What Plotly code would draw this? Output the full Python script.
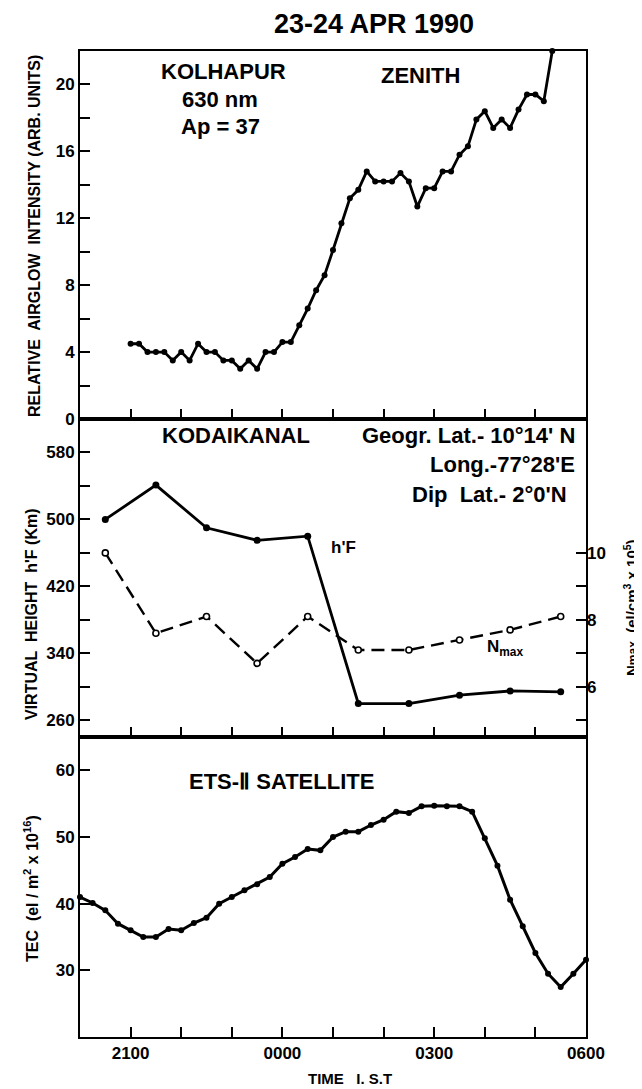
import plotly.graph_objects as go

# ---------------- data ----------------
# Airglow 630 nm, Kolhapur (10-min samples)
airglow_time = ["21:00", "21:10", "21:20", "21:30", "21:40", "21:50", "22:00", "22:10", "22:20", "22:30",
                "22:40", "22:50", "23:00", "23:10", "23:20", "23:30", "23:40", "23:50", "00:00", "00:10",
                "00:20", "00:30", "00:40", "00:50", "01:00", "01:10", "01:20", "01:30", "01:40", "01:50",
                "02:00", "02:10", "02:20", "02:30", "02:40", "02:50", "03:00", "03:10", "03:20", "03:30",
                "03:40", "03:50", "04:00", "04:10", "04:20", "04:30", "04:40", "04:50", "05:00", "05:10",
                "05:20"]
airglow_val = [4.5, 4.5, 4.0, 4.0, 4.0, 3.5, 4.0, 3.5, 4.5, 4.0,
               4.0, 3.5, 3.5, 3.0, 3.5, 3.0, 4.0, 4.0, 4.6, 4.6,
               5.6, 6.6, 7.7, 8.6, 10.1, 11.7, 13.2, 13.7, 14.8, 14.2,
               14.2, 14.2, 14.7, 14.2, 12.7, 13.8, 13.8, 14.8, 14.8, 15.8,
               16.3, 17.9, 18.4, 17.4, 17.9, 17.4, 18.5, 19.4, 19.4, 19.0,
               22.0]

# Kodaikanal ionosonde (hourly)
iono_time = ["20:30", "21:30", "22:30", "23:30", "00:30", "01:30", "02:30", "03:30", "04:30", "05:30"]
hf_val = [500, 541, 490, 475, 480, 280, 280, 290, 295, 294]
nmax_val = [10.0, 7.6, 8.1, 6.7, 8.1, 7.1, 7.1, 7.4, 7.7, 8.1]

# ETS-II TEC (15-min samples)
tec_time = ["20:00", "20:15", "20:30", "20:45", "21:00", "21:15", "21:30", "21:45", "22:00", "22:15",
            "22:30", "22:45", "23:00", "23:15", "23:30", "23:45", "00:00", "00:15", "00:30", "00:45",
            "01:00", "01:15", "01:30", "01:45", "02:00", "02:15", "02:30", "02:45", "03:00", "03:15",
            "03:30", "03:45", "04:00", "04:15", "04:30", "04:45", "05:00", "05:15", "05:30", "05:45",
            "06:00"]
tec_val = [41.0, 40.1, 39.0, 37.0, 36.0, 35.0, 35.0, 36.2, 36.0, 37.1,
           37.9, 40.0, 41.0, 42.0, 42.9, 44.0, 46.0, 47.0, 48.2, 48.0,
           50.0, 50.8, 50.8, 51.8, 52.6, 53.8, 53.6, 54.6, 54.7, 54.6,
           54.6, 53.8, 49.8, 45.7, 40.6, 36.6, 32.6, 29.5, 27.5, 29.5,
           31.6]


def to_dt(t):
    h = int(t[:2])
    day = "23" if h >= 12 else "24"
    return f"1990-04-{day} {t}:00"


X_RANGE = ["1990-04-23 20:00:00", "1990-04-24 06:00:00"]

FONT = "Liberation Sans, Arial, sans-serif"
OFF = 8  # page body margin
W, H = 642 - OFF, 1089 - OFF
ML, MT = 80 - OFF, 51 - OFF
MR = W - (586 - OFF)
MB = H - (1037 - OFF)
PW = W - ML - MR
PH = H - MT - MB


def px(x):
    return (x - OFF - ML) / PW


def py(y):
    return (H - MB - (y - OFF)) / PH


fig = go.Figure()

fig.add_trace(go.Scatter(
    x=[to_dt(t) for t in airglow_time], y=airglow_val, xaxis="x", yaxis="y",
    mode="lines+markers", line=dict(color="black", width=2.8),
    marker=dict(color="black", size=6), cliponaxis=False, showlegend=False))

fig.add_trace(go.Scatter(
    x=[to_dt(t) for t in iono_time], y=hf_val, xaxis="x2", yaxis="y2",
    mode="lines+markers", line=dict(color="black", width=2.8),
    marker=dict(color="black", size=7), showlegend=False))

fig.add_trace(go.Scatter(
    x=[to_dt(t) for t in iono_time], y=nmax_val, xaxis="x2", yaxis="y3",
    mode="lines+markers", line=dict(color="black", width=2.4, dash="13px,7px"),
    marker=dict(color="white", size=6, line=dict(color="black", width=1.6)),
    showlegend=False))

fig.add_trace(go.Scatter(
    x=[to_dt(t) for t in tec_time], y=tec_val, xaxis="x3", yaxis="y4",
    mode="lines+markers", line=dict(color="black", width=3),
    marker=dict(color="black", size=6), cliponaxis=False, showlegend=False))

tickfont = dict(family=FONT, size=17, color="black", weight="bold")
TK = dict(ticks="inside", ticklen=10, tickwidth=2, tickcolor="black")


def xaxis(anchor, labels):
    return dict(
        type="date", range=X_RANGE, anchor=anchor, domain=[0, 1],
        showline=True, linewidth=2, linecolor="black", mirror=True,
        showgrid=False, zeroline=False,
        tick0="1990-04-23 21:00:00", dtick=3 * 3600000, tickformat="%H%M",
        minor=dict(TK, tick0="1990-04-23 20:00:00", dtick=3600000, showgrid=False),
        showticklabels=labels, tickfont=tickfont, **TK)


def yaxis(anchor, domain, rng, **kw):
    d = dict(anchor=anchor, domain=domain, range=rng,
             showline=True, linewidth=2, linecolor="black", mirror=True,
             showgrid=False, zeroline=False, tickfont=tickfont, **TK)
    d.update(kw)
    return d


D_BOT = [0, 300 / PH]
D_MID = [300 / PH, 618 / PH]
D_TOP = [618 / PH, 1]

fig.update_layout(
    width=W, height=H,
    margin=dict(l=ML, r=MR, t=MT, b=MB),
    paper_bgcolor="white", plot_bgcolor="white",
    font=dict(family=FONT, color="black"),
    xaxis=xaxis("y", False),
    xaxis2=xaxis("y2", False),
    xaxis3=xaxis("y4", True),
    yaxis=yaxis("x", D_TOP, [0, 22], tick0=0, dtick=4,
                minor=dict(TK, tick0=0, dtick=2, showgrid=False)),
    yaxis2=yaxis("x2", D_MID, [240, 620], tick0=260, dtick=80,
                 minor=dict(TK, tick0=260, dtick=40, showgrid=False)),
    yaxis3=dict(anchor="x2", overlaying="y2", side="right", range=[4.5, 14],
                tickvals=[6, 8, 10],
                minor=dict(TK, tickvals=[5, 7, 9], showgrid=False),
                showline=False, showgrid=False, zeroline=False, tickfont=tickfont, **TK),
    yaxis4=yaxis("x3", D_BOT, [20, 65], tickvals=[30, 40, 50, 60]),
)

B = dict(family=FONT, color="black", weight="bold")


def ann(text, x, y, size, angle=0, xanchor="center", yanchor="middle"):
    fig.add_annotation(text=text, x=px(x), y=py(y), xref="paper", yref="paper",
                       showarrow=False, textangle=angle, xanchor=xanchor, yanchor=yanchor,
                       font=dict(B, size=size))


ann("23-24 APR 1990", 374, 24, 27)
ann("KOLHAPUR", 223, 72, 22)
ann("630 nm", 220, 99, 22)
ann("Ap = 37", 220, 127, 22)
ann("ZENITH", 420, 75, 22)

ann("KODAIKANAL", 236, 435, 22)
ann("Geogr. Lat.- 10°14' N", 577, 435, 22, xanchor="right")
ann("Long.-77°28'E", 577, 464, 22, xanchor="right")
ann("Dip  Lat.- 2°0'N", 569, 495, 22, xanchor="right")
ann("h'F", 343, 547, 17)
ann("N<sub>max</sub>", 505, 648, 17)

ann("ETS-Ⅱ SATELLITE", 281, 781, 22)

ann("RELATIVE  AIRGLOW  INTENSITY (ARB. UNITS)", 35, 236, 16, angle=-90)
ann("VIRTUAL  HEIGHT  h'F (Km)", 31, 614, 16, angle=-90)
ann("N<span style='font-size:12px'>max</span>  (el/cm<sup>3</sup> x 10<sup>5</sup>)",
    630, 608, 15, angle=-90)
ann("TEC  (el / m<sup>2</sup> x 10<sup>16</sup>)", 31, 889, 16, angle=-90)
ann("TIME   I. S.T", 350, 1078, 15)

fig.write_html("out.html")
